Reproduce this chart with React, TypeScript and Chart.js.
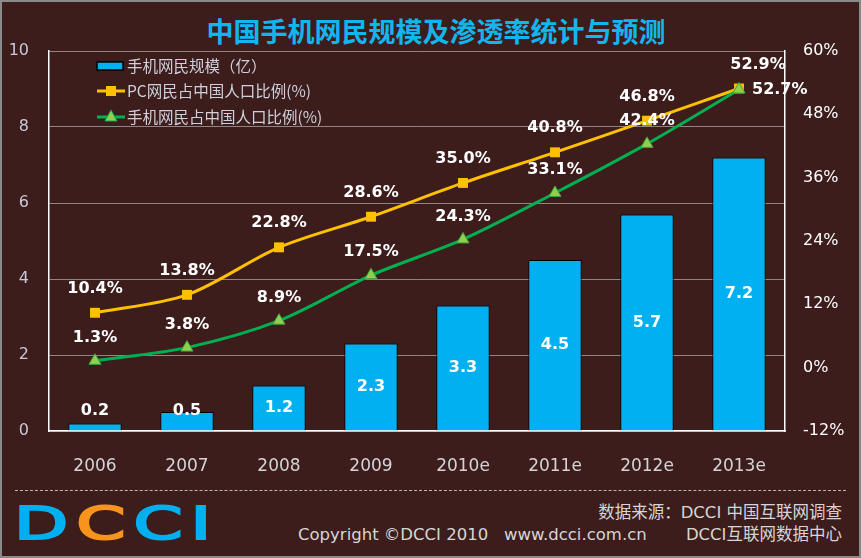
import React, { useEffect, useRef } from "react";
import { Chart, registerables } from "chart.js";

Chart.register(...registerables);

const categories = ["2006", "2007", "2008", "2009", "2010e", "2011e", "2012e", "2013e"];
const mobileUsers = [0.2, 0.5, 1.2, 2.3, 3.3, 4.5, 5.7, 7.2];
const pcPenetration = [10.4, 13.8, 22.8, 28.6, 35.0, 40.8, 46.8, 52.9];
const mobilePenetration = [1.3, 3.8, 8.9, 17.5, 24.3, 33.1, 42.4, 52.7];
const seriesLabels = ["手机网民规模（亿）", "PC网民占中国人口比例(%)", "手机网民占中国人口比例(%)"];

const BG = "#3c1d1c";
const CYAN = "#00b0f0";
const YELLOW = "#ffc000";
const GREEN = "#00b050";
const LIGHTGREEN = "#8fd050";
const LABEL_FONT = "bold 16px 'DejaVu Sans', sans-serif";

const valueLabels = {
  id: "valueLabels",
  afterDatasetsDraw(chart: any) {
    const ctx = chart.ctx;
    ctx.save();
    ctx.font = LABEL_FONT;
    ctx.fillStyle = "#ffffff";
    ctx.textBaseline = "middle";
    const barMeta = chart.getDatasetMeta(0);
    ctx.textAlign = "center";
    barMeta.data.forEach((el: any, i: number) => {
      const y = Math.min((el.y + el.base) / 2, el.base - 20);
      ctx.fillText(mobileUsers[i].toFixed(1), el.x, y);
    });
    const pcMeta = chart.getDatasetMeta(1);
    pcMeta.data.forEach((el: any, i: number) => {
      const last = i === pcMeta.data.length - 1;
      ctx.textAlign = "center";
      ctx.fillText(pcPenetration[i].toFixed(1) + "%", el.x + (last ? 19 : 0), el.y - 24);
    });
    const mMeta = chart.getDatasetMeta(2);
    mMeta.data.forEach((el: any, i: number) => {
      const last = i === mMeta.data.length - 1;
      if (last) {
        ctx.textAlign = "left";
        ctx.fillText(mobilePenetration[i].toFixed(1) + "%", el.x + 13, el.y);
      } else {
        ctx.textAlign = "center";
        ctx.fillText(mobilePenetration[i].toFixed(1) + "%", el.x, el.y - 23);
      }
    });
    ctx.restore();
  },
};

const customLegend = {
  id: "customLegend",
  afterDraw(chart: any) {
    const ctx = chart.ctx;
    ctx.save();
    ctx.font = "15.5px 'Noto Sans CJK SC', sans-serif";
    ctx.textBaseline = "middle";
    ctx.textAlign = "left";
    const x0 = 97;
    const tx = 127;
    const ys = [66, 91, 117];
    ctx.fillStyle = CYAN;
    ctx.fillRect(x0, ys[0] - 4, 26, 8);
    ctx.strokeStyle = "#000";
    ctx.lineWidth = 1.5;
    ctx.strokeRect(x0, ys[0] - 4, 26, 8);
    ctx.strokeStyle = YELLOW;
    ctx.lineWidth = 3;
    ctx.beginPath();
    ctx.moveTo(x0, ys[1]);
    ctx.lineTo(x0 + 28, ys[1]);
    ctx.stroke();
    ctx.fillStyle = YELLOW;
    ctx.fillRect(x0 + 9, ys[1] - 5, 10, 10);
    ctx.strokeStyle = GREEN;
    ctx.beginPath();
    ctx.moveTo(x0, ys[2]);
    ctx.lineTo(x0 + 28, ys[2]);
    ctx.stroke();
    ctx.fillStyle = LIGHTGREEN;
    ctx.strokeStyle = GREEN;
    ctx.lineWidth = 1;
    ctx.beginPath();
    ctx.moveTo(x0 + 14, ys[2] - 7);
    ctx.lineTo(x0 + 20, ys[2] + 4);
    ctx.lineTo(x0 + 8, ys[2] + 4);
    ctx.closePath();
    ctx.fill();
    ctx.stroke();
    ctx.fillStyle = "#cfd0dc";
    seriesLabels.forEach((t, i) => ctx.fillText(t, tx, ys[i]));
    ctx.restore();
  },
};

export default function App() {
  const ref = useRef<HTMLCanvasElement | null>(null);

  useEffect(() => {
    document.body.style.margin = "0";
    if (!ref.current) return;
    const chart = new Chart(ref.current, {
      type: "bar",
      data: {
        labels: categories,
        datasets: [
          {
            type: "bar",
            label: seriesLabels[0],
            data: mobileUsers,
            backgroundColor: CYAN,
            borderColor: "#000000",
            borderWidth: 1,
            barPercentage: 0.58,
            categoryPercentage: 1,
            yAxisID: "y",
            order: 2,
          },
          {
            type: "line",
            label: seriesLabels[1],
            data: pcPenetration,
            borderColor: YELLOW,
            backgroundColor: YELLOW,
            borderWidth: 3,
            pointStyle: "rect",
            pointRadius: 7,
            pointBorderWidth: 0,
            tension: 0.3,
            yAxisID: "y1",
            order: 1,
          },
          {
            type: "line",
            label: seriesLabels[2],
            data: mobilePenetration,
            borderColor: GREEN,
            backgroundColor: LIGHTGREEN,
            pointBorderColor: "#3aa83a",
            borderWidth: 3,
            pointStyle: "triangle",
            pointRadius: 7,
            pointBorderWidth: 1,
            tension: 0.3,
            yAxisID: "y1",
            order: 0,
          },
        ],
      } as any,
      options: {
        animation: false,
        responsive: false,
        maintainAspectRatio: false,
        layout: { padding: { top: 51, left: 0, right: 0, bottom: 0 } },
        plugins: {
          legend: { display: false },
          title: { display: false },
          tooltip: { enabled: false },
        },
        scales: {
          x: {
            grid: { display: false, drawTicks: false },
            border: { display: true, color: "#ffffff", width: 1.5 },
            ticks: {
              color: "#d4d4d8",
              font: { family: "'DejaVu Sans', sans-serif", size: 17 },
              padding: 25,
            },
            afterFit: (s: any) => {
              s.height = 59;
            },
          },
          y: {
            position: "left",
            min: 0,
            max: 10,
            ticks: {
              stepSize: 2,
              color: "#c8c8d8",
              font: { family: "'DejaVu Sans', sans-serif", size: 16 },
              padding: 20,
            },
            grid: { color: "#8f8585", lineWidth: 1, drawTicks: false },
            border: { display: true, color: "#ffffff", width: 1.5 },
            afterFit: (s: any) => {
              s.width = 49;
            },
          },
          y1: {
            position: "right",
            min: -12,
            max: 60,
            ticks: {
              stepSize: 12,
              color: "#ffffff",
              font: { family: "'DejaVu Sans', sans-serif", size: 16 },
              padding: 18,
              callback: (v: any) => v + "%",
            },
            grid: { display: false, drawTicks: false },
            border: { display: true, color: "#ffffff", width: 1.5 },
            afterFit: (s: any) => {
              s.width = 76;
            },
          },
        },
      } as any,
      plugins: [valueLabels, customLegend],
    });
    return () => chart.destroy();
  }, []);

  const footText: React.CSSProperties = {
    position: "absolute",
    color: "#d6d6d6",
    fontFamily: "'DejaVu Sans', 'Noto Sans CJK SC', sans-serif",
    fontSize: 16.5,
    lineHeight: "20px",
    whiteSpace: "nowrap",
  };

  return (
    <div
      style={{
        position: "relative",
        width: 861,
        height: 558,
        background: BG,
        outline: "2px solid #8a8a8a",
        outlineOffset: -2,
        overflow: "hidden",
      }}
    >
      <div
        style={{
          position: "absolute",
          left: 0,
          width: 872,
          top: 16,
          textAlign: "center",
          color: "#12b6ee",
          fontFamily: "'Noto Sans CJK SC', sans-serif",
          fontWeight: 700,
          fontSize: 27,
          lineHeight: "30px",
          whiteSpace: "nowrap",
        }}
      >
        中国手机网民规模及渗透率统计与预测
      </div>
      <canvas ref={ref} width={861} height={490} style={{ position: "absolute", left: 0, top: 0, width: 861, height: 490 }} />
      <div
        style={{
          position: "absolute",
          left: 15,
          right: 15,
          top: 490,
          borderTop: "1.5px dashed #bdb5b5",
        }}
      />
      <div
        style={{
          position: "absolute",
          left: 14,
          top: 500,
          fontFamily: "'DejaVu Sans', sans-serif",
          fontSize: 44,
          lineHeight: "48px",
          letterSpacing: 5,
          transform: "scaleX(1.6)",
          transformOrigin: "left center",
          whiteSpace: "nowrap",
        }}
      >
        <span style={{ color: CYAN, WebkitTextStroke: `2px ${CYAN}` } as any}>D</span>
        <span style={{ color: "#f7941d", WebkitTextStroke: "2px #f7941d" } as any}>C</span>
        <span style={{ color: CYAN, WebkitTextStroke: `2px ${CYAN}` } as any}>C</span>
        <span style={{ color: CYAN, WebkitTextStroke: `2px ${CYAN}` } as any}>I</span>
      </div>
      <div style={{ ...footText, right: 19, top: 503 }}>数据来源：DCCI 中国互联网调查</div>
      <div style={{ ...footText, left: 298, top: 525 }}>Copyright ©DCCI 2010</div>
      <div style={{ ...footText, left: 504, top: 525 }}>www.dcci.com.cn</div>
      <div style={{ ...footText, right: 19, top: 525 }}>DCCI互联网数据中心</div>
    </div>
  );
}
